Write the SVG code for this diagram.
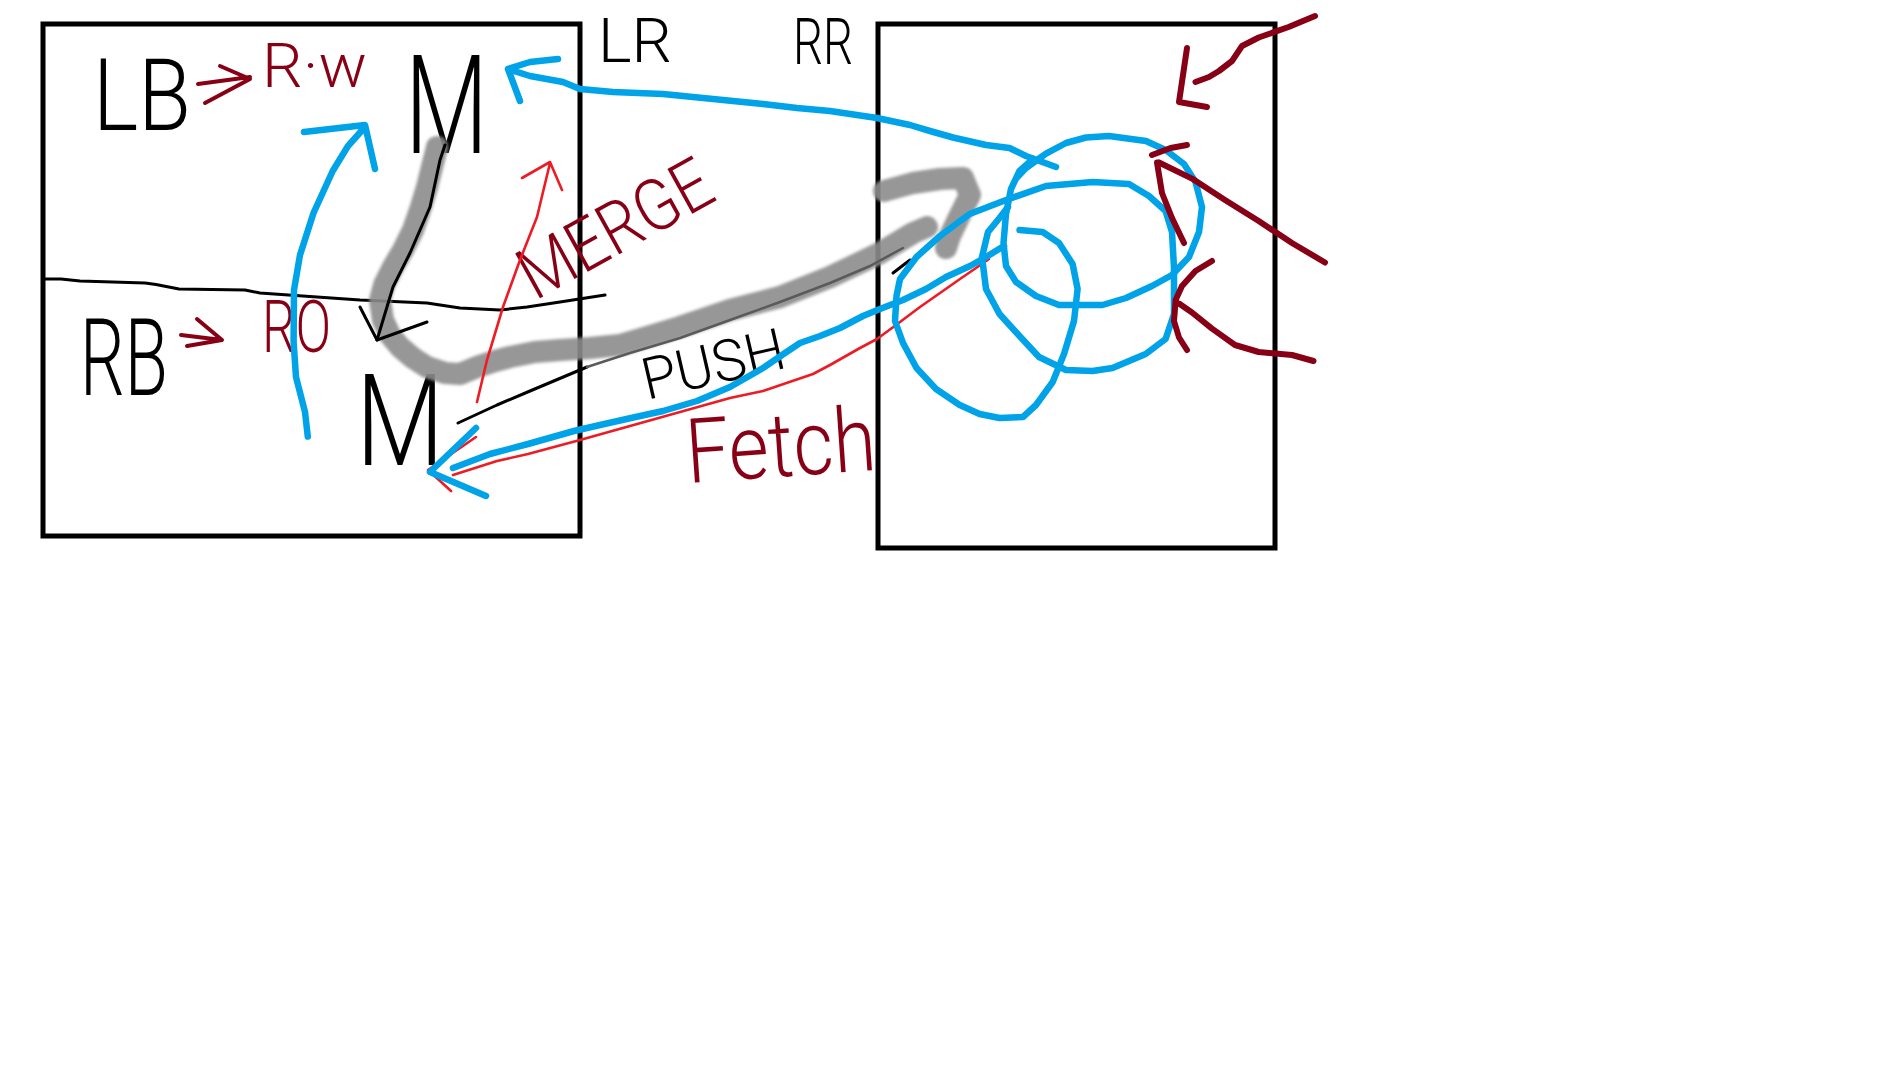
<svg xmlns="http://www.w3.org/2000/svg" width="1886" height="1090" viewBox="0 0 1886 1090">
<style>
.box{fill:none;stroke:#000;stroke-width:5}
.bl{fill:none;stroke:#00A2E8;stroke-width:6.5;stroke-linecap:round;stroke-linejoin:round}
.mr{fill:none;stroke:#880015;stroke-width:6;stroke-linecap:round;stroke-linejoin:round}
.mrt{fill:none;stroke:#880015;stroke-width:4;stroke-linecap:round;stroke-linejoin:round}
.rd{fill:none;stroke:#ED1C24;stroke-width:2.6;stroke-linecap:round;stroke-linejoin:round}
.pen{fill:none;stroke:#000;stroke-width:3;stroke-linecap:round;stroke-linejoin:round}
.dk{fill:none;stroke:#5a5a5a;stroke-width:2.5;stroke-linecap:round;stroke-linejoin:round}
.gr{fill:none;stroke:#8c8c8c;stroke-width:22;stroke-linecap:round;stroke-linejoin:round;opacity:0.9}
.t{font-family:Roboto,"DejaVu Sans","Liberation Sans",sans-serif;font-weight:300}
.blk{fill:#000}
.mar{fill:#880015}
</style>
<defs>
<filter id="soft" x="-10%" y="-10%" width="120%" height="120%"><feGaussianBlur stdDeviation="1.6"/></filter>
</defs>
<rect width="1886" height="1090" fill="#fff"/>

<g id="local">
<rect class="box" x="43" y="24" width="537" height="512"/>
<path class="pen" d="M45,279 L61,279 L80,281 L145,283 L156,284.5 L179,289 L245,290 L260,293 L317,297 L360,300 L427,303 L460,308 L500,310 L527,307 L560,302 L605,295"/>
</g>

<g id="remote">
<rect class="box" x="878" y="24" width="397" height="524"/>
</g>

<g id="labels">
<text class="t blk" x="93" y="130" font-size="100" textLength="98" lengthAdjust="spacingAndGlyphs">LB</text>
<text class="t mar" x="262" y="87" font-size="62" textLength="105" lengthAdjust="spacingAndGlyphs">R·w</text>
<text class="t blk" x="405" y="153" font-size="138" textLength="83" lengthAdjust="spacingAndGlyphs">M</text>
<text class="t blk" x="598" y="62" font-size="62" textLength="74" lengthAdjust="spacingAndGlyphs">LR</text>
<text class="t blk" x="793" y="64" font-size="64" textLength="60" lengthAdjust="spacingAndGlyphs">RR</text>
<text class="t blk" x="80" y="395" font-size="108" textLength="88" lengthAdjust="spacingAndGlyphs">RB</text>
<text class="t mar" x="262" y="352" font-size="72" textLength="69" lengthAdjust="spacingAndGlyphs">RO</text>
<text class="t blk" x="356" y="465" font-size="128" textLength="88" lengthAdjust="spacingAndGlyphs">M</text>
<text class="t mar" x="535" y="301" font-size="72" textLength="210" lengthAdjust="spacingAndGlyphs" transform="rotate(-29 535 301)">MERGE</text>
<text class="t blk" x="647" y="400" font-size="58" textLength="145" lengthAdjust="spacingAndGlyphs" transform="rotate(-13 647 400)">PUSH</text>
<text class="t mar" x="688" y="483" font-size="90" textLength="190" lengthAdjust="spacingAndGlyphs" transform="rotate(-4 688 483)">Fetch</text>
</g>

<g id="connectors">
<path class="mrt" d="M198,84 L250,77 M220,66 L250,79 L205,103"/>
<path class="mrt" d="M181,335 L222,340 M197,319 L222,340 L187,346"/>

<g filter="url(#soft)">
<path class="gr" d="M437,147 L432,167 L427,187 L420,210 L413,230 L403,250 L393,267 L384,285 L380,300 L383,320 L390,335 L400,347 L413,358 L427,367 L445,373 L460,374 L477,367 L495,361 L510,357 L535,352 L560,350 L590,348 L620,345 L647,337 L680,327 L730,310 L780,297 L830,277 L880,253 L913,233 L927,227"/>
<path class="gr" d="M884,191 L913,183 L940,179 L963,178 L970,195 L960,215 L950,236 L946,248"/>
</g>
<path class="pen" d="M445,145 L440,160 L430,207 L410,253 L393,287 L377,340"/>
<path class="pen" d="M360,307 L377,340 L427,322"/>
<path class="pen" d="M458,423 L497,405 L530,391 L587,367"/>
<path class="dk" d="M587,367 L630,353 L680,338 L730,320 L780,302 L830,283 L870,266 L903,248"/>
<path class="pen" d="M893,273 L910,260"/>

<path class="rd" d="M477,402 L487,360 L503,307 L520,260 L537,217 L550,163 M522,178 L550,162 L562,190"/>

<path class="rd" d="M989,259 L976,268 L960,279 L940,293 L920,307 L896,325 L877,339 L860,348 L830,365 L813,374 L763,391 L730,398 L680,412 L630,426 L580,440 L528,454 L497,461 L453,475 M476,437 L428,470 L451,491"/>

<path class="bl" d="M307.8,436.6 L305,412 L296,377 L293.6,342 L294,290 L300,255 L313.5,213 L332.7,171 L348,146 L365,127 M304,132 L365,125 L375,169"/>

<path class="bl" d="M1056,167 L1026,156 L1009.5,148 L986,145 L953,137.5 L930,131 L910,125 L877,118 L830,111 L797,108 L763,104 L713,99 L663,94 L613,92 L580,89 L563,82 L530,76 L508,69 M558,59 L530,62 L508,69 L520,101"/>

<path class="bl" d="M1004,246 L986,257 L970,266 L946,277 L926,289 L903,300 L880,309 L863,316 L840,328 L820,336 L800,343 L785,353 L763,368 L730,387 L697,401 L663,411 L631,418 L600,425 L574,431 L528,444 L490,454 L453,468 M476,428 L430,472 L486,496"/>

<path class="bl" d="M1033,159 L1019.5,171 L1011,189 L1006,214 L1003.5,243 L1006,266 L1016,282 L1036,296 L1059,305 L1102.5,305 L1126,298 L1152,286 L1172,275 L1189,257 L1199,232 L1202,207 L1195.5,182 L1184,164 L1165.6,150 L1146,141 L1109,136 L1086,137.5 L1066,143 L1046,153.6 L1026,168 L1016,178.6"/>
<path class="bl" d="M1019.5,230 L1042.7,232 L1059,243 L1072.6,264 L1077.6,289 L1074,321 L1064,354 L1052.7,382 L1036,405 L1023,417 L999.5,418 L979.6,414 L959.7,405 L936,389 L916.5,368 L903,343 L895,321 L896.5,296 L900,279 L916.5,257 L940,236 L969.6,214 L1006,200 L1046,186 L1092.6,182 L1129,184 L1149,196 L1165.6,211 L1172,232 L1174,268 L1174,314 L1165.6,339 L1145.7,354 L1112.5,368 L1092.6,371 L1066,370 L1039,357 L1019.5,336 L999.5,314 L986,289 L982,257 L988,232 L999.5,218 L1008,207"/>

<path class="mr" d="M1315,16 L1288.6,27 L1258.7,37.5 L1242,46 L1232,61 L1219,71 L1209,77 L1195.5,82 M1187,48 L1179,102 L1207,107"/>
<path class="mr" d="M1325,262.5 L1292,243 L1258.7,221 L1225,200 L1192,178.6 L1159,162.5 M1152,155 L1170.6,148 L1187,145 M1157,162.5 L1162,193 L1172,218 L1184,243"/>
<path class="mr" d="M1313.5,361 L1292,355 L1258.7,352 L1235,345 L1212,328.6 L1192,312.5 L1179,303.6 M1212,261 L1195.5,271 L1182,286 L1175.6,300 L1174,321 L1179,337.5 L1187,350"/>
</g>
</svg>
